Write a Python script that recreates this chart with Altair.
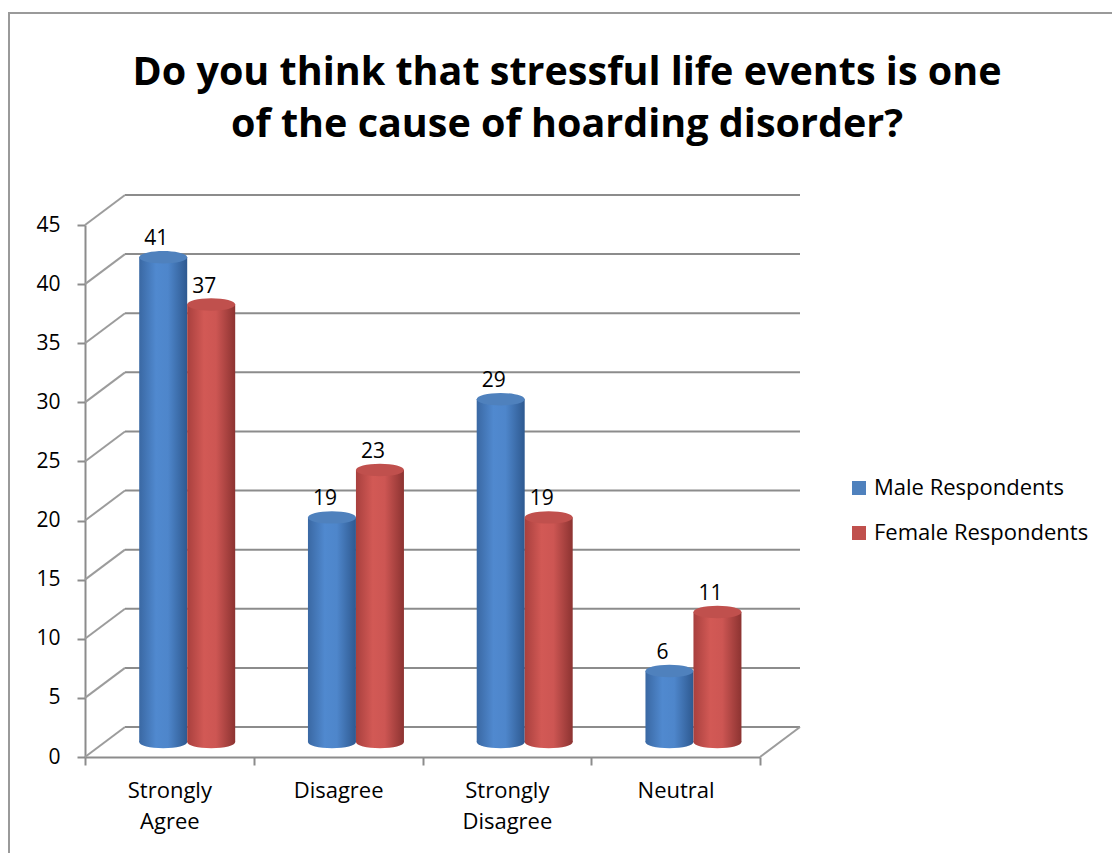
import altair as alt
import pandas as pd

categories = ["Strongly Agree", "Disagree", "Strongly Disagree", "Neutral"]
series_names = ["Male Respondents", "Female Respondents"]
male = [41, 19, 29, 6]
female = [37, 23, 19, 11]
y_ticks = [0, 5, 10, 15, 20, 25, 30, 35, 40, 45]
title_lines = ["Do you think that stressful life events is one",
               "of the cause of hoarding disorder?"]

rows = []
for c, m, f in zip(categories, male, female):
    rows.append({"category": c, "series": series_names[0], "value": m})
    rows.append({"category": c, "series": series_names[1], "value": f})
df = pd.DataFrame(rows)
ticks_df = pd.DataFrame({"tick": y_ticks})

FONT = "Open Sans"
W, H = 675, 532
DX, DY = 40, -30          # depth of back wall
MY = -15                  # bar plane (mid depth)

blue_grad = {"gradient": "linear", "x1": 0, "y1": 0, "x2": 1, "y2": 0,
             "stops": [{"offset": 0, "color": "#3A68A3"},
                       {"offset": 0.35, "color": "#5089CF"},
                       {"offset": 0.6, "color": "#4E86CB"},
                       {"offset": 1, "color": "#2E5990"}]}
red_grad = {"gradient": "linear", "x1": 0, "y1": 0, "x2": 1, "y2": 0,
            "stops": [{"offset": 0, "color": "#A8403E"},
                      {"offset": 0.35, "color": "#D25955"},
                      {"offset": 0.6, "color": "#CD5653"},
                      {"offset": 1, "color": "#8C3331"}]}

ellipse = "M-1,0A1,0.26,0,1,1,1,0A1,0.26,0,1,1,-1,0Z"

yscale = alt.Scale(domain=[0, 45], nice=False, zero=True)
xscale = alt.Scale(domain=categories, paddingInner=0, paddingOuter=0)
xoff_scale = alt.Scale(domain=series_names, paddingInner=0, paddingOuter=0.758, align=0.745)

is_male = alt.datum.series == series_names[0]
grad_fill = alt.condition(is_male, alt.value(blue_grad), alt.value(red_grad))

one = pd.DataFrame({"k": [0]})

# frame around the whole chart
frame = alt.Chart(one).mark_rect(
    fillOpacity=0, stroke="#9a9a9a", strokeWidth=2
).encode(x=alt.value(-76), x2=alt.value(1200), y=alt.value(-212), y2=alt.value(800))

title = alt.Chart(one).mark_text(
    text=title_lines, font=FONT, fontSize=39.5, fontWeight="bold", color="#000",
    align="center", baseline="alphabetic", lineHeight=52
).encode(x=alt.value(482), y=alt.value(-140))

grid = alt.Chart(ticks_df).mark_rule(
    color="#8c8c8c", strokeWidth=2, yOffset=DY, y2Offset=DY
).encode(y=alt.Y("tick:Q", scale=yscale), x=alt.value(DX), x2=alt.value(W + DX))

diag = alt.Chart(ticks_df).mark_rule(
    color="#9c9c9c", strokeWidth=2, y2Offset=DY
).encode(y=alt.Y("tick:Q", scale=yscale), y2="tick:Q", x=alt.value(0), x2=alt.value(DX))

floor_right = alt.Chart(ticks_df[ticks_df.tick == 0]).mark_rule(
    color="#9c9c9c", strokeWidth=2, y2Offset=DY
).encode(y=alt.Y("tick:Q", scale=yscale), y2="tick:Q", x=alt.value(W), x2=alt.value(W + DX))

base = alt.Chart(df).encode(
    x=alt.X("category:N", scale=xscale, sort=categories,
            axis=alt.Axis(title=None, tickBand="extent", labelAngle=0,
                          labelExpr="split(datum.label, ' ')",
                          labelFont=FONT, labelFontSize=22, labelColor="#000",
                          labelPadding=15, labelLineHeight=31,
                          domainColor="#8c8c8c", domainWidth=2,
                          tickColor="#8c8c8c", tickWidth=2, tickSize=8)),
    xOffset=alt.XOffset("series:N", scale=xoff_scale, sort=series_names),
)

bottoms = base.mark_point(shape=ellipse, size=2304, filled=True, opacity=1,
                          strokeWidth=0, yOffset=MY).encode(
    y=alt.Y(datum=0, scale=yscale), fill=grad_fill)

bars = base.mark_bar(yOffset=MY, y2Offset=MY).encode(
    y=alt.Y("value:Q", scale=yscale,
            axis=alt.Axis(title=None, values=y_ticks, grid=False,
                          labelFont=FONT, labelFontSize=21, labelColor="#000",
                          labelPadding=17,
                          domainColor="#8c8c8c", domainWidth=2,
                          tickColor="#8c8c8c", tickWidth=2, tickSize=8)),
    fill=grad_fill,
)

tops = base.mark_point(shape=ellipse, size=2304, filled=True, opacity=1,
                       strokeWidth=0, yOffset=MY).encode(
    y=alt.Y("value:Q", scale=yscale),
    color=alt.Color("series:N", sort=series_names,
                    scale=alt.Scale(domain=series_names, range=["#4F81BD", "#C0504D"]),
                    legend=alt.Legend(title=None, orient="none", legendX=763, legendY=252,
                                      symbolType="square", symbolSize=196,
                                      labelFont=FONT, labelFontSize=22, labelColor="#000",
                                      labelLimit=400, rowPadding=23, labelOffset=4)),
)

labels = base.mark_text(font=FONT, fontSize=21, color="#000", baseline="bottom",
                        yOffset=MY - 8, dx=-7).encode(
    y=alt.Y("value:Q", scale=yscale), text="value:Q")

chart = alt.layer(frame, title, grid, diag, floor_right, bottoms, bars, tops, labels).properties(
    width=W, height=H,
    autosize=alt.AutoSizeParams(type="none"),
    padding={"left": 85, "top": 225, "right": 352, "bottom": 96},
    background="white",
).configure_view(strokeWidth=0, stroke="transparent")

chart.save("out.html", embed_options={"renderer": "svg", "actions": False})
